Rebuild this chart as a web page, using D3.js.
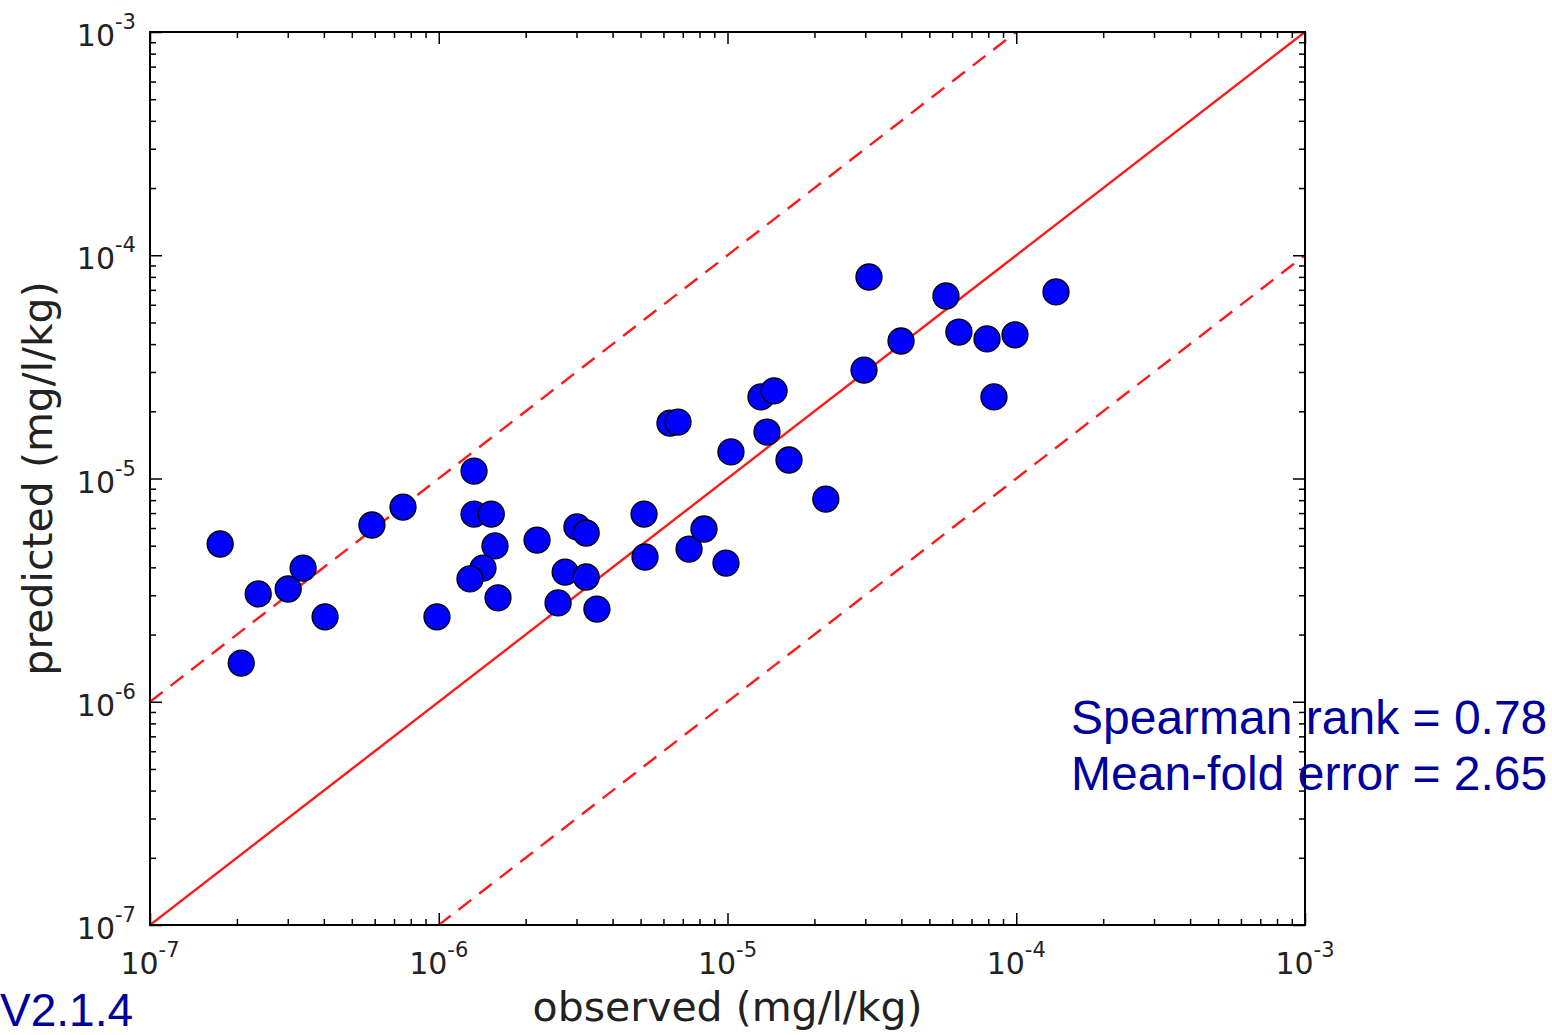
<!DOCTYPE html>
<html>
<head>
<meta charset="utf-8">
<script src="https://cdn.jsdelivr.net/npm/d3@7"></script>
<style>
  body { margin: 0; background: #fff; }
  svg { display: block; }
</style>
</head>
<body>
<script>
// observed vs predicted values (mg/l/kg)
var observed = [
  1.75e-7, 2.07e-7, 2.37e-7, 3.01e-7, 3.39e-7, 4.04e-7, 5.87e-7, 7.52e-7, 9.86e-7,
  1.325e-6, 1.325e-6, 1.52e-6, 1.566e-6, 1.423e-6, 1.283e-6, 1.604e-6,
  2.19e-6, 3.01e-6, 3.24e-6, 2.74e-6, 3.24e-6, 2.59e-6, 3.53e-6,
  5.14e-6, 5.18e-6, 6.32e-6, 6.74e-6, 7.36e-6, 8.29e-6, 9.88e-6,
  1.028e-5, 1.306e-5, 1.45e-5, 1.37e-5, 1.633e-5, 2.19e-5, 2.97e-5, 3.09e-5,
  3.99e-5, 5.71e-5, 6.33e-5, 7.92e-5, 9.90e-5, 8.37e-5, 1.373e-4
];
var predicted = [
  5.09e-6, 1.49e-6, 3.04e-6, 3.20e-6, 3.97e-6, 2.40e-6, 6.19e-6, 7.45e-6, 2.40e-6,
  1.08e-5, 6.93e-6, 6.93e-6, 4.99e-6, 3.97e-6, 3.55e-6, 2.92e-6,
  5.30e-6, 6.07e-6, 5.70e-6, 3.81e-6, 3.62e-6, 2.77e-6, 2.60e-6,
  6.93e-6, 4.45e-6, 1.77e-5, 1.79e-5, 4.83e-6, 5.94e-6, 4.18e-6,
  1.315e-5, 2.32e-5, 2.47e-5, 1.615e-5, 1.21e-5, 8.09e-6, 3.06e-5, 7.99e-5,
  4.13e-5, 6.57e-5, 4.53e-5, 4.22e-5, 4.40e-5, 2.32e-5, 6.85e-5
];
var axisDomain = [1e-7, 1e-3];
var foldFactors = [1, 10, 0.1];           // y = x, y = 10x, y = x/10
var statLines = ["Spearman rank = 0.78", "Mean-fold error = 2.65"];
var versionLabel = "V2.1.4";
var xTitle = "observed (mg/l/kg)";
var yTitle = "predicted (mg/l/kg)";

var W = 1552, H = 1035;
var pLeft = 150, pRight = 1305, pTop = 32, pBottom = 925;

var svg = d3.select("body").append("svg")
    .attr("width", W)
    .attr("height", H);

var x = d3.scaleLog().domain(axisDomain).range([pLeft, pRight]);
var y = d3.scaleLog().domain(axisDomain).range([pBottom, pTop]);

function isMajor(d) {
  var l = Math.log10(d);
  return Math.abs(l - Math.round(l)) < 1e-9;
}
var allTicks = x.ticks();
var majorTicks = allTicks.filter(isMajor);
var minorTicks = allTicks.filter(function(d) { return !isMajor(d); });

// reference lines, clipped to the plot box
svg.append("clipPath").attr("id", "plotclip")
  .append("rect")
    .attr("x", pLeft).attr("y", pTop)
    .attr("width", pRight - pLeft).attr("height", pBottom - pTop);

var line = d3.line()
    .x(function(d) { return x(d[0]); })
    .y(function(d) { return y(d[1]); });

svg.append("g").attr("clip-path", "url(#plotclip)")
  .selectAll("path")
  .data(foldFactors)
  .enter()
  .append("path")
    .attr("d", function(f) {
      return line(axisDomain.map(function(v) { return [v, v * f]; }));
    })
    .attr("fill", "none")
    .attr("stroke", "#ff1a1a")
    .attr("stroke-width", 2.4)
    .attr("stroke-dasharray", function(f) { return f === 1 ? null : "16,10"; });

// points
svg.append("g")
  .selectAll("circle")
  .data(observed)
  .enter()
  .append("circle")
    .attr("cx", function(d) { return x(d); })
    .attr("cy", function(d, i) { return y(predicted[i]); })
    .attr("r", 13)
    .attr("fill", "#0000ff")
    .attr("stroke", "#000")
    .attr("stroke-width", 1.3);

// ticks on all four sides, pointing inward
function tickSet(axisFn, scale, pos, values, size) {
  svg.append("g")
    .attr("transform", pos)
    .call(axisFn(scale).tickValues(values).tickSize(-size).tickSizeOuter(0).tickFormat(""))
    .call(function(g) {
      g.select(".domain").remove();
      g.selectAll(".tick line").attr("stroke", "#000").attr("stroke-width", 1.5);
    });
}
[[majorTicks, 12], [minorTicks, 6]].forEach(function(s) {
  tickSet(d3.axisBottom, x, "translate(0," + pBottom + ")", s[0], s[1]);
  tickSet(d3.axisTop, x, "translate(0," + pTop + ")", s[0], s[1]);
  tickSet(d3.axisLeft, y, "translate(" + pLeft + ",0)", s[0], s[1]);
  tickSet(d3.axisRight, y, "translate(" + pRight + ",0)", s[0], s[1]);
});

// frame
svg.append("rect")
    .attr("x", pLeft).attr("y", pTop)
    .attr("width", pRight - pLeft).attr("height", pBottom - pTop)
    .attr("fill", "none")
    .attr("stroke", "#000")
    .attr("stroke-width", 2);

// power-of-ten labels
function powLabel(sel) {
  sel.append("tspan").text("10");
  sel.append("tspan")
    .attr("font-size", 21)
    .attr("dy", -17)
    .text(function(d) { return "-" + Math.abs(Math.round(Math.log10(d))); });
}

svg.append("g")
  .selectAll("text")
  .data(majorTicks)
  .enter()
  .append("text")
    .attr("x", function(d) { return x(d); })
    .attr("y", 974)
    .attr("text-anchor", "middle")
    .attr("font-family", "DejaVu Sans")
    .attr("font-size", 30)
    .attr("fill", "#222")
    .call(powLabel);

svg.append("g")
  .selectAll("text")
  .data(majorTicks)
  .enter()
  .append("text")
    .attr("x", pLeft - 14)
    .attr("y", function(d) { return y(d) + 14; })
    .attr("text-anchor", "end")
    .attr("font-family", "DejaVu Sans")
    .attr("font-size", 30)
    .attr("fill", "#222")
    .call(powLabel);

// axis titles
svg.append("text")
    .attr("x", (pLeft + pRight) / 2)
    .attr("y", 1021)
    .attr("text-anchor", "middle")
    .attr("font-family", "DejaVu Sans")
    .attr("font-size", 41)
    .attr("fill", "#222")
    .text(xTitle);

svg.append("text")
    .attr("transform", "translate(52," + (pTop + pBottom) / 2 + ") rotate(-90)")
    .attr("text-anchor", "middle")
    .attr("font-family", "DejaVu Sans")
    .attr("font-size", 41)
    .attr("fill", "#222")
    .text(yTitle);

// statistics and version text
svg.append("g")
  .selectAll("text")
  .data(statLines)
  .enter()
  .append("text")
    .attr("x", 1071)
    .attr("y", function(d, i) { return 734 + i * 56; })
    .attr("font-family", "Liberation Sans, Arial, sans-serif")
    .attr("font-size", 48)
    .attr("fill", "#00009c")
    .text(function(d) { return d; });

svg.append("text")
    .attr("x", 0)
    .attr("y", 1026)
    .attr("font-family", "Liberation Sans, Arial, sans-serif")
    .attr("font-size", 46)
    .attr("fill", "#00009c")
    .text(versionLabel);
</script>
</body>
</html>
